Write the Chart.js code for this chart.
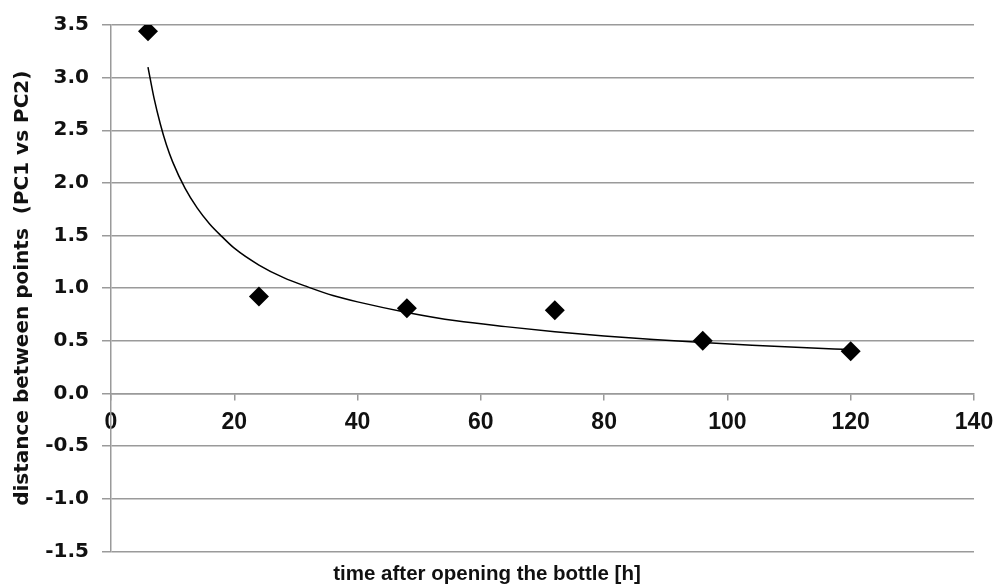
<!DOCTYPE html>
<html>
<head>
<meta charset="utf-8">
<script src="https://cdn.jsdelivr.net/npm/chart.js@4/dist/chart.umd.min.js"></script>
<style>
  html, body { margin: 0; padding: 0; background: #fff; }
  #wrap { width: 998px; height: 588px; }
</style>
</head>
<body>
<div id="wrap"><canvas id="distChart"></canvas></div>
<script>
// measured points (hours after opening, distance PC1 vs PC2)
const hours = [6, 24, 48, 72, 96, 120];
const distance = [3.44, 0.92, 0.81, 0.79, 0.50, 0.40];

// trend line
const trendHours = [6, 7, 8, 9, 10, 12, 14, 16, 18, 20, 24, 28, 32, 36, 40, 48, 56, 64, 72, 80, 88, 96, 104, 112, 120];
const trendDistance = [3.10, 2.80, 2.56, 2.36, 2.20, 1.95, 1.76, 1.61, 1.49, 1.38, 1.22, 1.10, 1.01, 0.93, 0.87, 0.77, 0.69, 0.635, 0.587, 0.547, 0.513, 0.484, 0.459, 0.436, 0.417];

// axis ticks
const xTicks = [0, 20, 40, 60, 80, 100, 120, 140];
const yTicks = [-1.5, -1.0, -0.5, 0.0, 0.5, 1.0, 1.5, 2.0, 2.5, 3.0, 3.5];

const wideFont = '"DejaVu Sans", sans-serif';
const plainFont = '"Liberation Sans", Arial, sans-serif';
const gridGray = '#9a9a9a';

const pointData = hours.map((h, i) => ({ x: h, y: distance[i] }));
const trendData = trendHours.map((h, i) => ({ x: h, y: trendDistance[i] }));

const config = {
    type: 'scatter',
    data: {
        datasets: [{
            label: 'distance',
            data: pointData,
            pointStyle: 'rectRot',
            pointRadius: 10,
            pointHoverRadius: 10,
            backgroundColor: '#000',
            borderColor: '#000',
            borderWidth: 0
        }, {
            label: 'trend',
            data: trendData,
            showLine: true,
            pointRadius: 0,
            borderColor: '#000',
            borderWidth: 1.5,
            cubicInterpolationMode: 'monotone'
        }]
    },
    options: {
        responsive: true,
        maintainAspectRatio: false,
        animation: false,
        layout: { padding: { top: 25, right: 24, bottom: 1, left: 0 } },
        plugins: {
            legend: { display: false },
            tooltip: { enabled: false },
            title: {
                display: true,
                position: 'bottom',
                text: 'time after opening the bottle [h]',
                color: '#111',
                font: { family: plainFont, size: 20.5, weight: 'bold' },
                padding: { top: 11, bottom: 0 }
            }
        },
        scales: {
            x: {
                type: 'linear',
                position: { y: 0 },
                min: xTicks[0],
                max: xTicks[xTicks.length - 1],
                afterBuildTicks: (scale) => { scale.ticks = xTicks.map(v => ({ value: v })); },
                afterFit: (scale) => { scale.paddingLeft = 0; scale.paddingRight = 0; },
                ticks: {
                    color: '#111',
                    padding: 9,
                    font: { family: plainFont, size: 23, weight: 'bold' }
                },
                grid: {
                    drawOnChartArea: false,
                    drawTicks: true,
                    tickLength: 6,
                    color: gridGray,
                    lineWidth: 1.5
                },
                border: { display: true, color: gridGray, width: 1.5 }
            },
            y: {
                type: 'linear',
                min: yTicks[0],
                max: yTicks[yTicks.length - 1],
                afterBuildTicks: (scale) => { scale.ticks = yTicks.map(v => ({ value: v })); },
                afterFit: (scale) => { scale.width = 111; },
                ticks: {
                    color: '#111',
                    padding: 13,
                    font: { family: wideFont, size: 20, weight: 'bold' },
                    callback: (v) => v.toFixed(1)
                },
                grid: {
                    color: gridGray,
                    lineWidth: 1.5,
                    tickLength: 9
                },
                border: { display: true, color: gridGray, width: 1.5 },
                title: {
                    display: true,
                    text: 'distance between points  (PC1 vs PC2)',
                    color: '#111',
                    font: { family: wideFont, size: 20, weight: 'bold' },
                    padding: { top: 11, bottom: 0 }
                }
            }
        }
    }
};

const ctx = document.getElementById('distChart').getContext('2d');
const distChart = new Chart(ctx, config);
</script>
</body>
</html>
